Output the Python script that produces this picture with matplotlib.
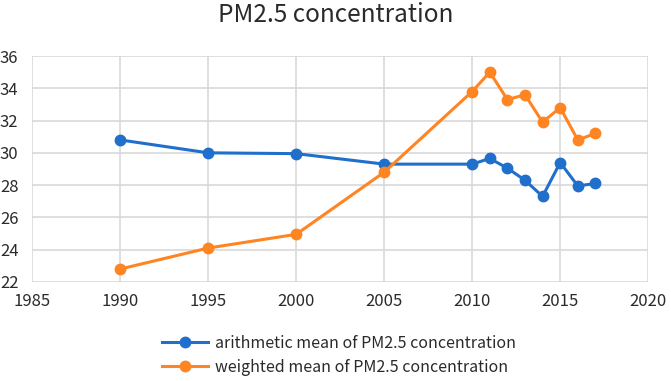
import matplotlib.pyplot as plt

plt.rcParams['font.family'] = ['Noto Sans CJK SC', 'DejaVu Sans']

years = [1990, 1995, 2000, 2005, 2010, 2011, 2012, 2013, 2014, 2015, 2016, 2017]
arith_mean = [30.8, 30.0, 29.95, 29.3, 29.3, 29.65, 29.05, 28.3, 27.3, 29.4, 27.95, 28.1]
weighted_mean = [22.8, 24.1, 24.95, 28.8, 33.8, 35.0, 33.3, 33.6, 31.9, 32.8, 30.8, 31.2]

x_ticks = [1985, 1990, 1995, 2000, 2005, 2010, 2015, 2020]
y_ticks = [22, 24, 26, 28, 30, 32, 34, 36]

blue = '#1f6fcb'
orange = '#ff8422'
text_col = '#2a2a2a'

fig = plt.figure(figsize=(6.71, 3.81), dpi=100)
ax = fig.add_axes([0.048, 0.26, 0.918, 0.593])

ax.plot(years, arith_mean, color=blue, linewidth=2.2, marker='o', markersize=7.5,
        label='arithmetic mean of PM2.5 concentration')
ax.plot(years, weighted_mean, color=orange, linewidth=2.2, marker='o', markersize=7.5,
        label='weighted mean of PM2.5 concentration')

ax.set_xlim(1985, 2020)
ax.set_ylim(22, 36)
ax.set_xticks(x_ticks)
ax.set_yticks(y_ticks)
ax.grid(True, color='#d9d9d9', linewidth=1.2)
ax.set_axisbelow(True)
for s in ax.spines.values():
    s.set_visible(False)
ax.tick_params(length=0, labelsize=12, colors=text_col)
ax.tick_params(axis='x', pad=8)
ax.tick_params(axis='y', pad=10)

fig.text(0.5, 0.96, 'PM2.5 concentration', ha='center', va='center', fontsize=17.5, color=text_col)

fig.legend(loc='center', bbox_to_anchor=(0.505, 0.067), frameon=False, fontsize=11.5,
           handlelength=2.9, labelspacing=0.45, handletextpad=0.4, labelcolor=text_col)

fig.savefig('out.png', dpi=100)
